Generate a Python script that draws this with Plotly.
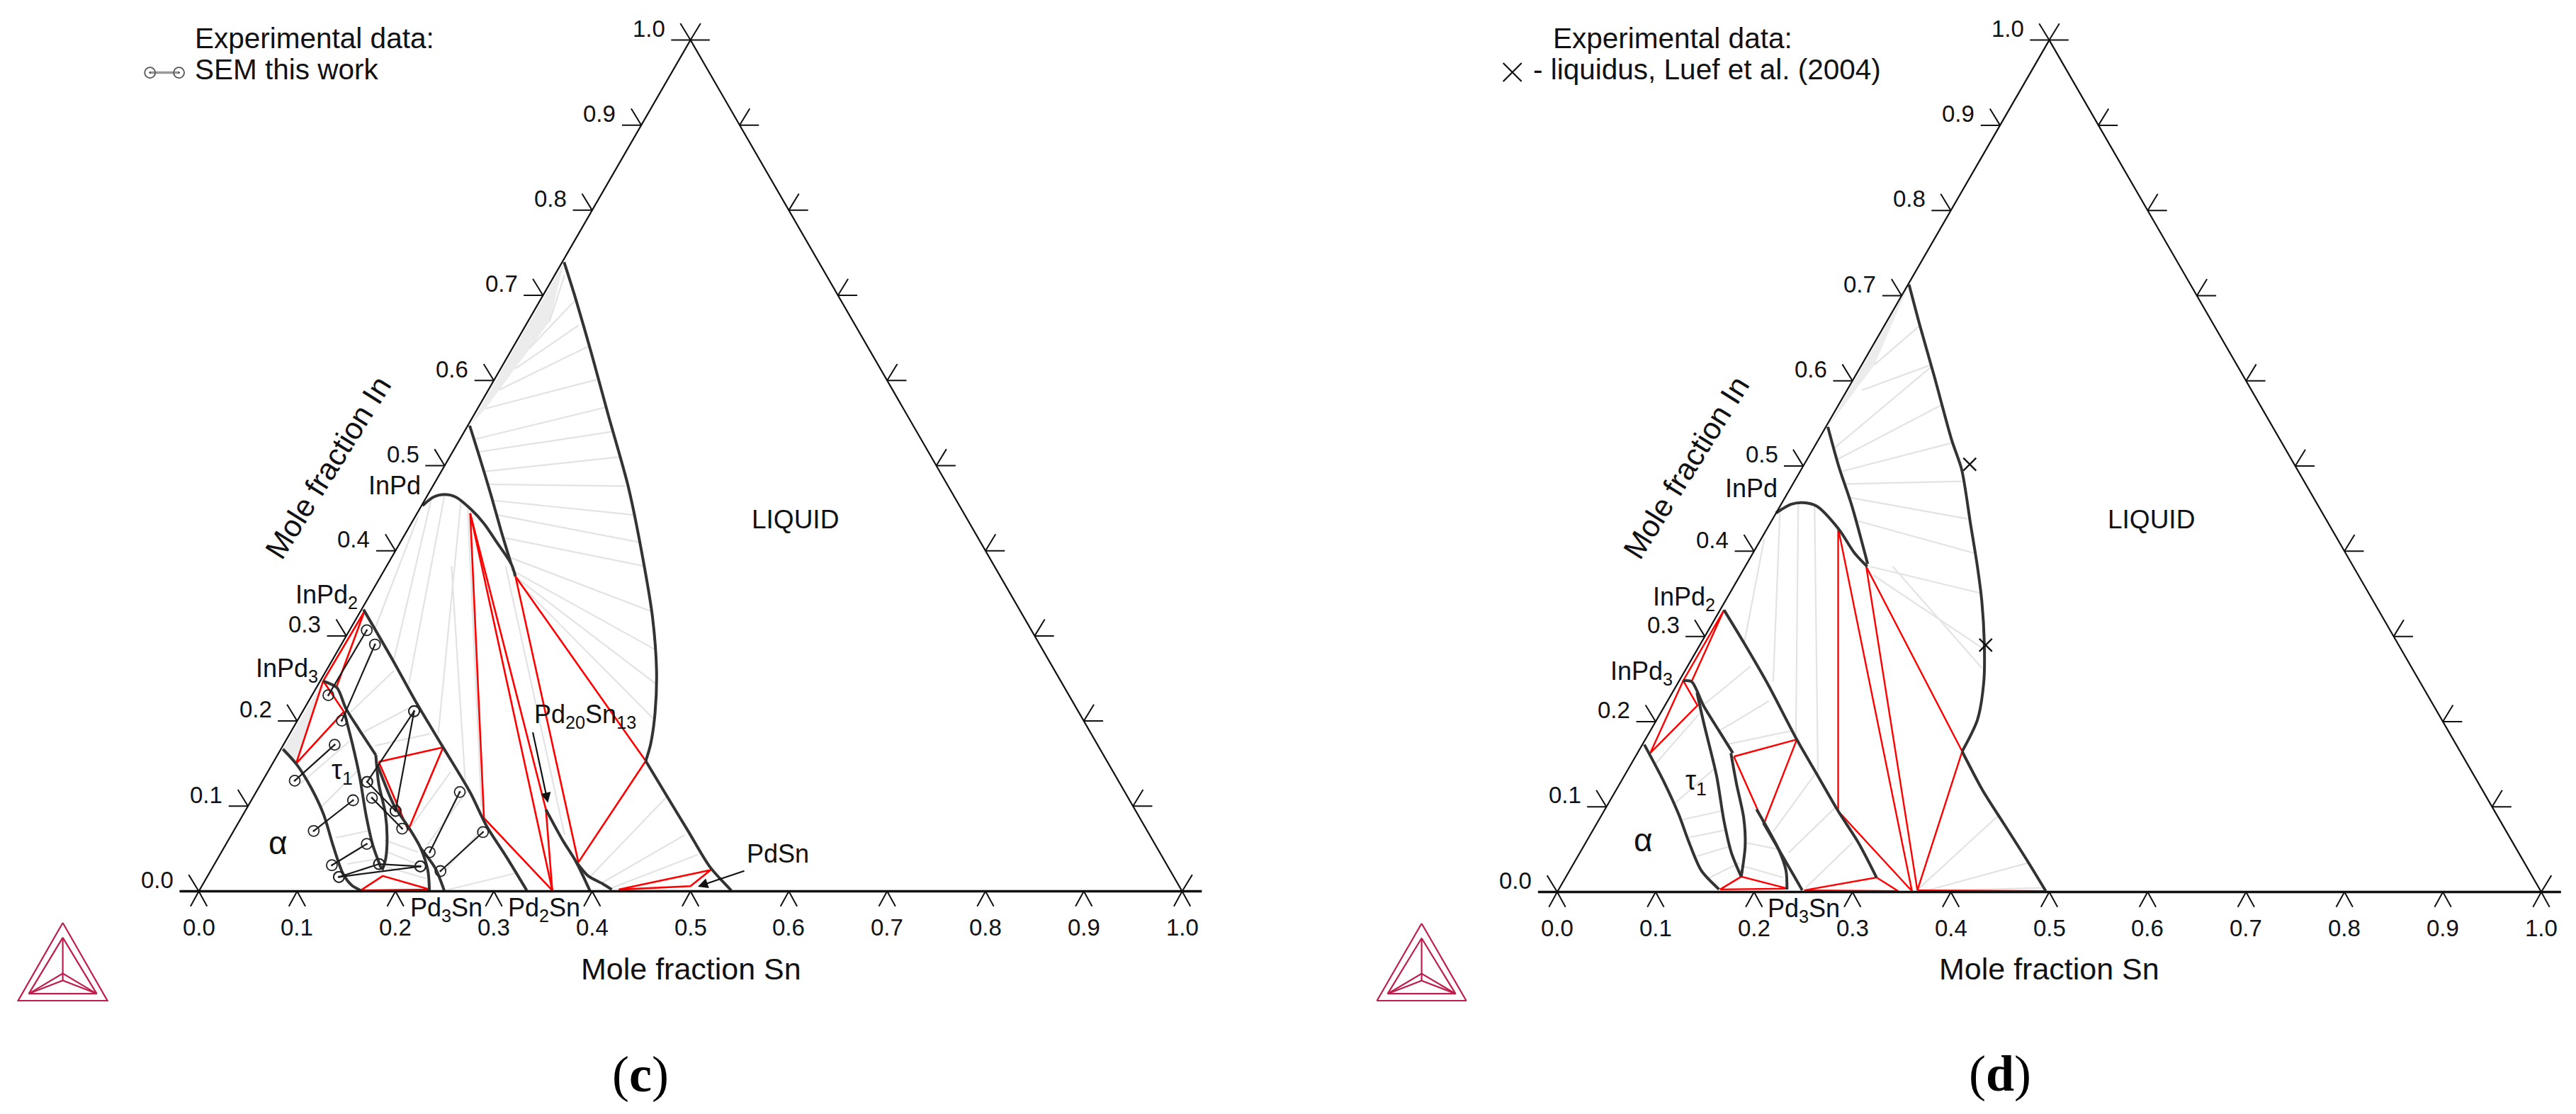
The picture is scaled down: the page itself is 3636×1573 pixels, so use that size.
import math
import plotly.graph_objects as go

W, H = 3636, 1573
FONT = "Liberation Sans"
DARK = "#333333"
GREY = "#e3e3e3"
RED = "#ff0000"
INK = "#111111"
CRIMSON = "#be1e4d"

TICKS = [0.0, 0.1, 0.2, 0.3, 0.4, 0.5, 0.6, 0.7, 0.8, 0.9, 1.0]
TICK_LABELS = ["0.0", "0.1", "0.2", "0.3", "0.4", "0.5", "0.6", "0.7", "0.8", "0.9", "1.0"]

# all compositions below are (mole fraction Sn, mole fraction In)

# ---- panel (c) boundaries
C_LIQ_UPPER = [(0.002, 0.739), (0.036, 0.695), (0.084, 0.631), (0.137, 0.559), (0.200, 0.474),
               (0.262, 0.382), (0.301, 0.321), (0.336, 0.259), (0.359, 0.210), (0.373, 0.173), (0.378, 0.153)]
C_LIQ_LOWER = [(0.378, 0.153), (0.423, 0.109), (0.463, 0.070), (0.505, 0.029), (0.541, 0.001)]
C_INPD_RIGHT = [(0.002, 0.547), (0.029, 0.512), (0.064, 0.466), (0.096, 0.423), (0.125, 0.385)]
C_DOME = [(0.001, 0.453), (0.007, 0.463), (0.017, 0.466), (0.030, 0.463), (0.052, 0.449),
          (0.074, 0.432), (0.098, 0.410), (0.125, 0.385), (0.137, 0.370)]
C_INPD_LOWER = [(0.002, 0.331), (0.063, 0.270), (0.108, 0.224), (0.164, 0.169), (0.218, 0.116),
                (0.254, 0.077), (0.293, 0.040), (0.333, 0.001)]
C_PD20_LEFT = [(0.305, 0.096), (0.340, 0.060), (0.366, 0.035), (0.398, 0.000)]
C_PD20_RIGHT = [(0.366, 0.035), (0.387, 0.018), (0.406, 0.009), (0.419, 0.002)]
C_ALPHA = [(0.002, 0.167), (0.025, 0.149), (0.054, 0.121), (0.082, 0.090), (0.111, 0.052),
           (0.136, 0.021), (0.152, 0.007), (0.164, 0.001)]
C_TAU_LEFT = [(0.043, 0.210), (0.069, 0.174), (0.096, 0.135), (0.125, 0.090), (0.150, 0.054), (0.172, 0.027)]
C_TAU_RIGHT = [(0.100, 0.160), (0.120, 0.126), (0.143, 0.093), (0.160, 0.063), (0.171, 0.038), (0.174, 0.025)]
C_INPD3 = [(0.003, 0.247), (0.021, 0.239), (0.042, 0.215), (0.068, 0.190), (0.100, 0.160)]
C_PD3SN_LEFT = [(0.107, 0.149), (0.148, 0.101), (0.177, 0.074), (0.200, 0.051), (0.221, 0.024), (0.234, 0.001)]
C_PD3SN_RIGHT = [(0.200, 0.051), (0.227, 0.027), (0.249, 0.001)]

# ---- panel (c) three-phase triangles and red segments
C_RED_TRI = [
    [(0.004, 0.329), (0.003, 0.247), (0.020, 0.240), (0.004, 0.329)],
    [(0.003, 0.247), (0.042, 0.211), (0.024, 0.150), (0.003, 0.247)],
    [(0.107, 0.152), (0.164, 0.169), (0.177, 0.072), (0.107, 0.152)],
    [(0.164, 0.001), (0.178, 0.018), (0.234, 0.002), (0.164, 0.001)],
    [(0.426, 0.002), (0.508, 0.025), (0.497, 0.006), (0.426, 0.002)],
    [(0.137, 0.370), (0.369, 0.034), (0.378, 0.153), (0.137, 0.370)],
    [(0.054, 0.444), (0.247, 0.086), (0.359, 0.001), (0.054, 0.444)],
    [(0.054, 0.444), (0.305, 0.096), (0.359, 0.001)],
]

# ---- panel (c) tie-lines: sn1, in1, sn2, in2
C_TIES = [
    (0.022, 0.669, 0.010, 0.724), (0.017, 0.637, 0.036, 0.695), (0.015, 0.614, 0.054, 0.665),
    (0.011, 0.589, 0.076, 0.640), (0.008, 0.567, 0.104, 0.601), (0.015, 0.531, 0.131, 0.569),
    (0.026, 0.516, 0.151, 0.540), (0.043, 0.493, 0.172, 0.510), (0.055, 0.478, 0.196, 0.476),
    (0.070, 0.459, 0.222, 0.442), (0.083, 0.442, 0.243, 0.410), (0.104, 0.415, 0.262, 0.382),
    (0.118, 0.393, 0.295, 0.329), (0.128, 0.378, 0.322, 0.284), (0.133, 0.372, 0.344, 0.243),
    (0.139, 0.366, 0.362, 0.202),
    (0.003, 0.440, 0.025, 0.308), (0.006, 0.461, 0.063, 0.270), (0.017, 0.466, 0.092, 0.243),
    (0.038, 0.457, 0.151, 0.185), (0.066, 0.382, 0.207, 0.128), (0.049, 0.449, 0.238, 0.099),
    (0.121, 0.382, 0.339, 0.066),
    (0.389, 0.016, 0.421, 0.113), (0.404, 0.009, 0.461, 0.066), (0.418, 0.004, 0.486, 0.043),
    (0.250, 0.001, 0.311, 0.021),
    (0.049, 0.210, 0.069, 0.259), (0.074, 0.187, 0.106, 0.215), (0.094, 0.171, 0.143, 0.185),
    (0.178, 0.076, 0.186, 0.140), (0.205, 0.054, 0.214, 0.118), (0.238, 0.024, 0.252, 0.076),
    (0.040, 0.126, 0.065, 0.176), (0.075, 0.099, 0.091, 0.143), (0.108, 0.063, 0.137, 0.071),
    (0.135, 0.032, 0.162, 0.038),
    (0.159, 0.060, 0.200, 0.046), (0.169, 0.046, 0.214, 0.029), (0.175, 0.029, 0.224, 0.015),
]
C_FILLS = [
    [(0.002, 0.739), (0.022, 0.669), (0.008, 0.567), (0.002, 0.547)],
    [(0.002, 0.167), (0.003, 0.247), (0.024, 0.150)],
    [(0.107, 0.149), (0.107, 0.152), (0.177, 0.072), (0.148, 0.101)],
]

# ---- panel (c) measured SEM tie-lines: sn1, in1, sn2, in2
C_SEM = [
    (0.0175, 0.3066, 0.0166, 0.2303), (0.0342, 0.2899, 0.0452, 0.2004), (0.1132, 0.2115, 0.1070, 0.1285),
    (0.1132, 0.2115, 0.1529, 0.0944), (0.0521, 0.1721, 0.0326, 0.1299), (0.1034, 0.1069, 0.0814, 0.0709),
    (0.1070, 0.1285, 0.1529, 0.0944), (0.1212, 0.1097, 0.1700, 0.0736), (0.2071, 0.1166, 0.2119, 0.0459),
    (0.2542, 0.0695, 0.2339, 0.0237), (0.1430, 0.0556, 0.1200, 0.0306), (0.1673, 0.0320, 0.2107, 0.0292),
    (0.1341, 0.0168, 0.1673, 0.0320), (0.1341, 0.0168, 0.2107, 0.0292),
]

# ---- panel (d) boundaries
D_LIQ_UPPER = [(0.001, 0.713), (0.036, 0.665), (0.080, 0.606), (0.136, 0.530), (0.163, 0.496),
               (0.204, 0.432), (0.236, 0.382), (0.261, 0.341), (0.288, 0.292), (0.310, 0.247),
               (0.326, 0.202), (0.329, 0.165)]
D_LIQ_LOWER = [(0.329, 0.165), (0.372, 0.120), (0.415, 0.079), (0.458, 0.038), (0.496, 0.001)]
D_INPD_RIGHT = [(0.002, 0.546), (0.036, 0.500), (0.073, 0.453), (0.123, 0.385)]
D_DOME = [(0.000, 0.445), (0.010, 0.455), (0.021, 0.457), (0.037, 0.453), (0.073, 0.426),
          (0.103, 0.398), (0.124, 0.382)]
D_INPD_LOWER = [(0.004, 0.331), (0.044, 0.292), (0.093, 0.243), (0.152, 0.181), (0.197, 0.136),
                (0.238, 0.095), (0.277, 0.058), (0.316, 0.017)]
D_ALPHA = [(0.002, 0.173), (0.045, 0.128), (0.078, 0.091), (0.105, 0.058), (0.134, 0.025), (0.163, 0.003)]
D_TAU_LEFT = [(0.025, 0.234), (0.050, 0.198), (0.094, 0.136), (0.128, 0.083), (0.154, 0.046), (0.178, 0.018)]
D_TAU_RIGHT = [(0.095, 0.163), (0.118, 0.128), (0.146, 0.087), (0.164, 0.054), (0.178, 0.018)]
D_INPD3 = [(0.004, 0.248), (0.013, 0.247), (0.040, 0.218), (0.070, 0.189), (0.097, 0.163)]
D_PD3SN_LEFT = [(0.154, 0.097), (0.200, 0.050), (0.220, 0.025), (0.232, 0.003)]
D_PD3SN_RIGHT = [(0.169, 0.081), (0.200, 0.050), (0.248, 0.002)]

D_RED_TRI = [
    [(0.004, 0.331), (0.004, 0.248), (0.013, 0.247), (0.004, 0.331)],
    [(0.004, 0.248), (0.033, 0.219), (0.013, 0.163), (0.004, 0.248)],
    [(0.100, 0.159), (0.154, 0.179), (0.170, 0.080), (0.100, 0.159)],
    [(0.164, 0.003), (0.178, 0.018), (0.232, 0.004), (0.164, 0.003)],
    [(0.250, 0.002), (0.316, 0.017), (0.346, 0.001), (0.250, 0.002)],
    [(0.072, 0.427), (0.238, 0.095), (0.360, 0.001), (0.072, 0.427)],
    [(0.123, 0.382), (0.365, 0.002), (0.329, 0.165), (0.123, 0.382)],
    [(0.365, 0.002), (0.496, 0.001)],
]

D_TIES = [
    (0.013, 0.619, 0.036, 0.665), (0.015, 0.589, 0.071, 0.619), (0.021, 0.521, 0.072, 0.617),
    (0.031, 0.508, 0.105, 0.572), (0.043, 0.494, 0.137, 0.527), (0.054, 0.479, 0.170, 0.482),
    (0.066, 0.463, 0.198, 0.438), (0.086, 0.436, 0.224, 0.398), (0.127, 0.382, 0.254, 0.351),
    (0.135, 0.372, 0.293, 0.284), (0.150, 0.382, 0.300, 0.263),
    (0.003, 0.415, 0.044, 0.292), (0.001, 0.451, 0.096, 0.247), (0.016, 0.458, 0.152, 0.181),
    (0.035, 0.453, 0.197, 0.136),
    (0.038, 0.218, 0.064, 0.265), (0.070, 0.189, 0.103, 0.224), (0.085, 0.173, 0.143, 0.189),
    (0.024, 0.148, 0.040, 0.210), (0.067, 0.103, 0.087, 0.144), (0.085, 0.085, 0.119, 0.095),
    (0.102, 0.064, 0.136, 0.073), (0.121, 0.042, 0.150, 0.054), (0.144, 0.015, 0.168, 0.034),
    (0.162, 0.058, 0.200, 0.050), (0.175, 0.030, 0.221, 0.017),
    (0.184, 0.071, 0.193, 0.140), (0.212, 0.046, 0.233, 0.099), (0.250, 0.005, 0.271, 0.058),
    (0.373, 0.001, 0.461, 0.034), (0.365, 0.003, 0.403, 0.089), (0.371, 0.001, 0.493, 0.005),
]
D_FILLS = [
    [(0.001, 0.713), (0.013, 0.619), (0.002, 0.546)],
]

D_LIQUIDUS_SN = [0.1682, 0.2905]
D_LIQUIDUS_IN = [0.5020, 0.2898]

# ---- Thermo-Calc logo, x in half widths from the apex, y in heights above the base
LOGO_U = [0, -1, 1, 0, None, 0, -0.76, 0.76, 0, None, 0, 0, None, -0.76, 0, 0.76, None, -0.76, 0, 0.76]
LOGO_V = [1, 0, 0, 1, None, 0.81, 0.09, 0.09, 0.81, None, 0.81, 0.26, None, 0.09, 0.35, 0.09, None, 0.09, 0.26, 0.09]

# ---- label text: text, pixel x, pixel y, font size
C_LABELS = [
    ("Pd<sub>20</sub>Sn<sub>13</sub>", 826, 1011, 36), ("PdSn", 1098, 1205, 36), ("InPd", 557, 686, 36),
    ("InPd<sub>2</sub>", 461, 842, 36), ("InPd<sub>3</sub>", 405, 946, 36), ("τ<sub>1</sub>", 483, 1090, 38),
    ("α", 392, 1190, 46), ("Pd<sub>3</sub>Sn", 630, 1284, 36), ("Pd<sub>2</sub>Sn", 768, 1284, 36),
    ("LIQUID", 1122, 733, 37), ("Mole fraction Sn", 975, 1368, 43),
]
D_LABELS = [
    ("InPd", 2472, 689, 36), ("InPd<sub>2</sub>", 2377, 845, 36), ("InPd<sub>3</sub>", 2317, 950, 36),
    ("τ<sub>1</sub>", 2394, 1105, 38), ("α", 2319, 1186, 46), ("Pd<sub>3</sub>Sn", 2546, 1285, 36),
    ("LIQUID", 3036, 733, 37), ("Mole fraction Sn", 2892, 1368, 43),
]
C_ARROWS = [((0.2455, 0.1879), (0.3030, 0.1040)), ((0.5436, 0.0244), (0.5047, 0.0055))]


def xy(sn, inn):
    # composition to position in the equilateral triangle
    return sn + inn / 2, inn * math.sqrt(3) / 2


def line_trace(paths, axes, color, width, shape="linear"):
    xs, ys = [], []
    for path in paths:
        for sn, inn in path:
            x, y = xy(sn, inn)
            xs.append(x)
            ys.append(y)
        xs.append(None)
        ys.append(None)
    return go.Scatter(x=xs, y=ys, mode="lines", xaxis=axes[0], yaxis=axes[1], hoverinfo="skip",
                      line=dict(color=color, width=width, shape=shape, smoothing=0.8))


def tie_paths(ties):
    return [[(t[0], t[1]), (t[2], t[3])] for t in ties]


def add_frame(fig, axes, xa, ya):
    # triangle sides, bottom axis and the Thermo-Calc style double ticks
    fig.add_trace(line_trace([[(0, 0), (0, 1), (1, 0)]], axes, INK, 2.2))
    fig.add_trace(go.Scatter(x=[-0.0193, 1.02], y=[0, 0], mode="lines", xaxis=axes[0], yaxis=axes[1],
                             hoverinfo="skip", line=dict(color=INK, width=3.6)))
    tl = 0.0187
    xs, ys = [], []
    for t in TICKS:
        # bottom ticks
        xs += [t - tl * 0.45, t, t + tl * 0.45, None]
        ys += [-tl * 0.82, 0, -tl * 0.82, None]
        # left side ticks
        lx, ly = xy(0, t)
        xs += [lx - tl * 1.05, lx, lx - tl * 0.55, None]
        ys += [ly, ly, ly + tl * 0.9, None]
        # right side ticks
        rx, ry = xy(1 - t, t)
        xs += [rx + tl * 1.05, rx, rx + tl * 0.55, None]
        ys += [ry, ry, ry + tl * 0.9, None]
    fig.add_trace(go.Scatter(x=xs, y=ys, mode="lines", xaxis=axes[0], yaxis=axes[1], hoverinfo="skip",
                             line=dict(color=INK, width=2)))
    for t, label in zip(TICKS, TICK_LABELS):
        fig.add_annotation(x=t, y=-0.0366, xref=xa, yref=ya, text=label, showarrow=False,
                           font=dict(family=FONT, size=33, color=INK))
        lx, ly = xy(0, t)
        fig.add_annotation(x=lx - 0.0423, y=ly + 0.0117, xref=xa, yref=ya, text=label, showarrow=False,
                           font=dict(family=FONT, size=33, color=INK))


def add_logo(fig, axes, cx, top, bottom, half, origin_x, origin_y, scale):
    # logo placed in pixels of the page, then mapped back to the axis units
    xs = [None if u is None else (cx + u * half - origin_x) / scale for u in LOGO_U]
    ys = [None if v is None else (origin_y - (bottom - v * (bottom - top))) / scale for v in LOGO_V]
    fig.add_trace(go.Scatter(x=xs, y=ys, mode="lines", xaxis=axes[0], yaxis=axes[1], hoverinfo="skip",
                             line=dict(color=CRIMSON, width=2.2)))


def add_text(fig, text, px, py, size, anchor="center", angle=0, family=FONT, color=INK):
    fig.add_annotation(x=px / W, y=1 - py / H, xref="paper", yref="paper", text=text, showarrow=False,
                       xanchor=anchor, yanchor="middle", textangle=angle,
                       font=dict(family=family, size=size, color=color))


fig = go.Figure()
AX_C = ("x", "y")
AX_D = ("x2", "y2")

# ---- panel (c)
for poly in C_FILLS:
    xs, ys = zip(*[xy(*p) for p in poly])
    fig.add_trace(go.Scatter(x=xs, y=ys, mode="lines", fill="toself", fillcolor="#ececec", hoverinfo="skip",
                             xaxis="x", yaxis="y", line=dict(width=0)))
fig.add_trace(line_trace(tie_paths(C_TIES), AX_C, GREY, 2.2))
fig.add_trace(line_trace(C_RED_TRI, AX_C, RED, 2.6))
fig.add_trace(line_trace([C_LIQ_UPPER, C_LIQ_LOWER, C_INPD_RIGHT, C_DOME, C_INPD_LOWER, C_PD20_LEFT, C_PD20_RIGHT,
                          C_ALPHA, C_TAU_LEFT, C_TAU_RIGHT, C_INPD3, C_PD3SN_LEFT, C_PD3SN_RIGHT],
                         AX_C, DARK, 4, "spline"))
fig.add_trace(line_trace(tie_paths(C_SEM), AX_C, "#1a1a1a", 2.2))
sem_pts = [xy(t[0], t[1]) for t in C_SEM] + [xy(t[2], t[3]) for t in C_SEM]
fig.add_trace(go.Scatter(x=[p[0] for p in sem_pts], y=[p[1] for p in sem_pts], mode="markers", hoverinfo="skip",
                         xaxis="x", yaxis="y",
                         marker=dict(symbol="circle-open-dot", size=15, color="#222222", line=dict(width=1.8))))
add_frame(fig, AX_C, "x", "y")
add_logo(fig, AX_C, 88.6, 1303, 1413, 63, 280.6, 1258.5, 1388)

# legend sample of panel (c), in axis units left of the triangle
fig.add_trace(go.Scatter(x=[(211.7 - 280.6) / 1388, (252.6 - 280.6) / 1388],
                         y=[(1258.5 - 102.6) / 1388, (1258.5 - 102.6) / 1388],
                         mode="lines+markers", xaxis="x", yaxis="y", hoverinfo="skip",
                         line=dict(color="#999999", width=3.5),
                         marker=dict(symbol="circle-open-dot", size=15, color="#555555", line=dict(width=1.8))))
for text, px, py, size in C_LABELS:
    add_text(fig, text, px, py, size)
add_text(fig, "Experimental data:", 273, 54, 40.5, anchor="left")
add_text(fig, "SEM this work", 273, 98, 40.5, anchor="left")
add_text(fig, "Mole fraction In", 463, 660, 43, angle=-58)
add_text(fig, "(<b>c</b>)", 904, 1517, 72, family="Liberation Serif", color="#000000")
for tail, head in C_ARROWS:
    hx, hy = xy(*head)
    tx, ty = xy(*tail)
    fig.add_annotation(x=hx, y=hy, ax=tx, ay=ty, xref="x", yref="y", axref="x", ayref="y", text="", showarrow=True,
                       arrowhead=2, arrowsize=1.3, arrowwidth=2.2, arrowcolor="#111111")

# ---- panel (d)
for poly in D_FILLS:
    xs, ys = zip(*[xy(*p) for p in poly])
    fig.add_trace(go.Scatter(x=xs, y=ys, mode="lines", fill="toself", fillcolor="#ececec", hoverinfo="skip",
                             xaxis="x2", yaxis="y2", line=dict(width=0)))
fig.add_trace(line_trace(tie_paths(D_TIES), AX_D, GREY, 2.2))
fig.add_trace(line_trace(D_RED_TRI, AX_D, RED, 2.4))
fig.add_trace(line_trace([D_LIQ_UPPER, D_LIQ_LOWER, D_INPD_RIGHT, D_DOME, D_INPD_LOWER, D_ALPHA, D_TAU_LEFT,
                          D_TAU_RIGHT, D_INPD3, D_PD3SN_LEFT, D_PD3SN_RIGHT], AX_D, DARK, 4, "spline"))
liq_pts = [xy(s, i) for s, i in zip(D_LIQUIDUS_SN, D_LIQUIDUS_IN)]
fig.add_trace(go.Scatter(x=[p[0] for p in liq_pts], y=[p[1] for p in liq_pts], mode="markers", hoverinfo="skip",
                         xaxis="x2", yaxis="y2",
                         marker=dict(symbol="x-thin", size=18, line=dict(width=2.2, color="#111111"))))
add_frame(fig, AX_D, "x2", "y2")
add_logo(fig, AX_D, 2006.6, 1304, 1413, 63, 2198, 1259.5, 1389)
fig.add_trace(go.Scatter(x=[(2134.7 - 2198) / 1389], y=[(1259.5 - 102) / 1389], mode="markers", hoverinfo="skip",
                         xaxis="x2", yaxis="y2",
                         marker=dict(symbol="x-thin", size=26, line=dict(width=2.2, color="#111111"))))
for text, px, py, size in D_LABELS:
    add_text(fig, text, px, py, size)
add_text(fig, "Experimental data:", 2190, 54, 40.5, anchor="left")
add_text(fig, "- liquidus, Luef et al. (2004)", 2162, 98, 40.5, anchor="left")
add_text(fig, "Mole fraction In", 2380, 660, 43, angle=-58)
add_text(fig, "(<b>d</b>)", 2823, 1516, 72, family="Liberation Serif", color="#000000")

hidden = dict(visible=False, fixedrange=True)
fig.update_layout(
    width=W, height=H, autosize=False, showlegend=False,
    margin=dict(l=0, r=0, t=0, b=0), paper_bgcolor="white", plot_bgcolor="white",
    xaxis=dict(domain=[0, 0.5], range=[-280.6 / 1388, (1818 - 280.6) / 1388], **hidden),
    yaxis=dict(domain=[0, 1], range=[(1258.5 - 1573) / 1388, 1258.5 / 1388], **hidden),
    xaxis2=dict(domain=[0.5, 1], range=[(1818 - 2198) / 1389, (3636 - 2198) / 1389], **hidden),
    yaxis2=dict(domain=[0, 1], range=[(1259.5 - 1573) / 1389, 1259.5 / 1389], **hidden),
)

fig.write_html("out.html", config={"displayModeBar": False},
               post_script="document.body.style.margin='0';document.body.style.overflow='hidden';")
